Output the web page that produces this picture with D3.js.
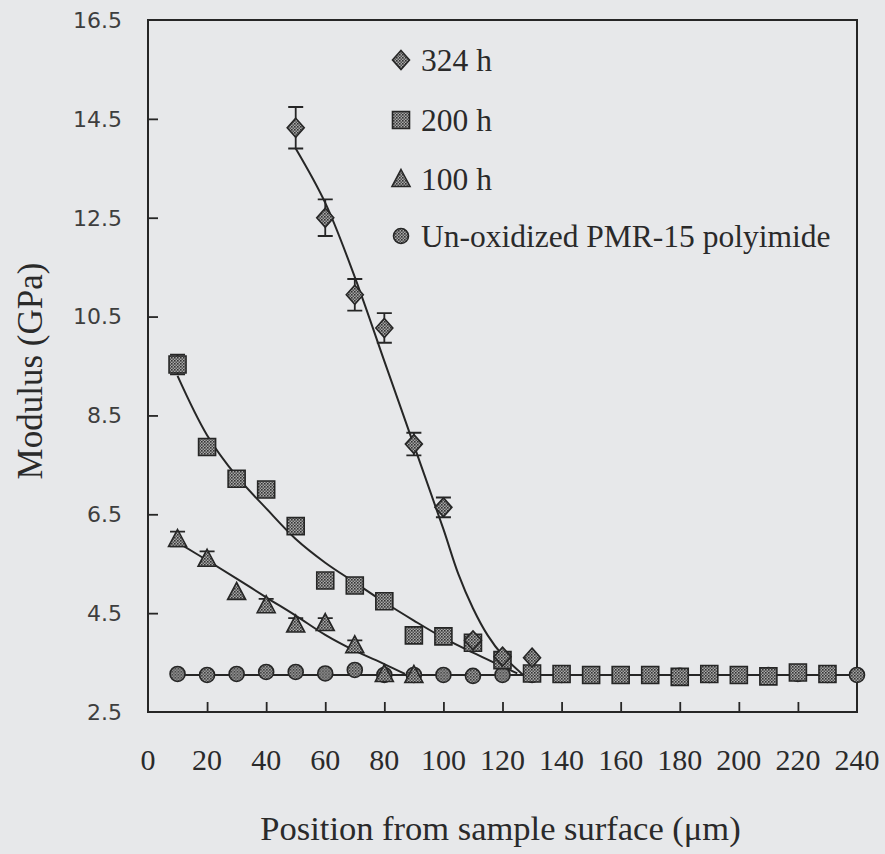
<!DOCTYPE html>
<html><head><meta charset="utf-8">
<script src="https://cdn.jsdelivr.net/npm/d3@7"></script>
<style>
html,body{margin:0;padding:0;background:#e7e8ea;}
svg{display:block;}
</style></head>
<body>
<svg id="chart" width="885" height="854"></svg>
<script>
// ---- data ----
const xTicks = [0,20,40,60,80,100,120,140,160,180,200,220,240];
const yTicks = [2.5,4.5,6.5,8.5,10.5,12.5,14.5,16.5];
const seriesNames = ["324 h","200 h","100 h","Un-oxidized PMR-15 polyimide"];

const pos324 = [50,60,70,80,90,100,110,120,130];
const mod324 = [14.32,12.5,10.94,10.27,7.92,6.64,3.95,3.62,3.6];
const err324 = [0.42,0.37,0.32,0.30,0.23,0.2,0,0,0];

const pos200 = [10,20,30,40,50,60,70,80,90,100,110,120,130,140,150,160,170,180,190,200,210,220,230];
const mod200 = [9.53,7.86,7.22,7.0,6.26,5.16,5.06,4.74,4.05,4.03,3.9,3.55,3.28,3.27,3.25,3.25,3.25,3.21,3.27,3.25,3.22,3.3,3.27];
const err200 = [0.2,0,0,0,0,0,0,0,0,0,0,0,0,0,0,0,0,0,0,0,0,0,0];

const pos100 = [10,20,30,40,50,60,70,80,90];
const mod100 = [6.0,5.6,4.93,4.66,4.27,4.3,3.85,3.27,3.25];
const err100 = [0.15,0.15,0,0.13,0.13,0.1,0.1,0,0];

const posUnox = [10,20,30,40,50,60,70,80,90,100,110,120,130,140,150,160,170,180,190,200,210,220,230,240];
const modUnox = [3.27,3.25,3.27,3.31,3.31,3.28,3.35,3.25,3.25,3.25,3.23,3.25,3.25,3.25,3.25,3.25,3.25,3.23,3.25,3.25,3.25,3.27,3.25,3.25];

// fitted trend lines
const fit324x = [50,60,70,80,90,100,105,110,115,120,127];
const fit324y = [13.9,12.8,11.3,9.6,7.9,6.2,5.3,4.6,4.05,3.65,3.25];
const fit200x = [10,20,30,40,50,60,70,80,90,100,110,120,125];
const fit200y = [9.3,8.1,7.27,6.62,6.0,5.52,5.12,4.72,4.35,4.0,3.7,3.42,3.28];
const fit100x = [10,20,30,40,50,60,70,80,87];
const fit100y = [5.93,5.57,5.2,4.82,4.45,4.06,3.74,3.47,3.27];
const baseX = [8,240];
const baseY = [3.25,3.25];

// ---- layout ----
const svg = d3.select("#chart");
const W = 885, H = 854;
const m = {left:148, right:28, top:20, bottom:142};
const x = d3.scaleLinear().domain([0,240]).range([m.left, W-m.right]);
const y = d3.scaleLinear().domain([2.5,16.5]).range([H-m.bottom, m.top]);
const ink = "#262626";

// pattern for markers
const defs = svg.append("defs");
const pat = defs.append("pattern").attr("id","dots").attr("patternUnits","userSpaceOnUse")
  .attr("width",3).attr("height",3);
pat.append("rect").attr("width",3).attr("height",3).attr("fill","#a9a9a9");
pat.append("rect").attr("width",1.6).attr("height",1.6).attr("fill","#333");
pat.append("rect").attr("x",1.5).attr("y",1.5).attr("width",1.5).attr("height",1.5).attr("fill","#505050");

// axes
const xAxis = d3.axisBottom(x).tickValues(xTicks.slice(1,-1)).tickSize(-10).tickFormat("");
const yAxis = d3.axisLeft(y).tickValues(yTicks.slice(1,-1)).tickSize(-10).tickFormat("");
const gx = svg.append("g").attr("transform",`translate(0,${y(2.5)})`).call(xAxis);
const gy = svg.append("g").attr("transform",`translate(${x(0)},0)`).call(yAxis);
[gx,gy].forEach(g=>{
  g.select(".domain").remove();
  g.selectAll(".tick line").attr("stroke",ink).attr("stroke-width",1.8);
});
// frame
svg.append("rect").attr("x",x(0)).attr("y",y(16.5)).attr("width",x(240)-x(0)).attr("height",y(2.5)-y(16.5))
  .attr("fill","none").attr("stroke",ink).attr("stroke-width",2);

// tick labels
svg.append("g").selectAll("text").data(xTicks).join("text")
  .attr("x",d=>x(d)).attr("y",770).attr("text-anchor","middle")
  .attr("font-family","'Liberation Serif', serif").attr("font-size",30).attr("fill","#2a2a2a")
  .text(d=>d);
svg.append("g").selectAll("text").data(yTicks).join("text")
  .attr("x",122).attr("y",d=>y(d)).attr("dy","0.36em").attr("text-anchor","end")
  .attr("font-family","'DejaVu Sans', sans-serif").attr("font-size",22).attr("fill","#3e3e3e")
  .text(d=>d.toFixed(1));

// axis titles
svg.append("text").attr("x",(x(0)+x(240))/2 - 2).attr("y",840).attr("text-anchor","middle")
  .attr("font-family","'Liberation Serif', serif").attr("font-size",34.5).attr("fill","#2a2a2a")
  .text("Position from sample surface (\u03bcm)");
svg.append("text").attr("transform",`translate(42,${(y(2.5)+y(16.5))/2 + 5}) rotate(-90)`)
  .attr("text-anchor","middle")
  .attr("font-family","'Liberation Serif', serif").attr("font-size",35).attr("fill","#2a2a2a")
  .text("Modulus (GPa)");

// lines
const line = d3.line().x(d=>x(d[0])).y(d=>y(d[1])).curve(d3.curveCatmullRom.alpha(0.5));
const fits = [
  d3.zip(baseX,baseY),
  d3.zip(fit100x,fit100y),
  d3.zip(fit200x,fit200y),
  d3.zip(fit324x,fit324y)
];
svg.append("g").selectAll("path").data(fits).join("path")
  .attr("d",line).attr("fill","none").attr("stroke",ink).attr("stroke-width",2);

// marker shapes
function shape(g, kind, cx, cy){
  const s = g.append("path").attr("fill","url(#dots)").attr("stroke",ink).attr("stroke-width",1.6);
  if(kind==="diamond") s.attr("d",`M${cx},${cy-9.5}L${cx+8.5},${cy}L${cx},${cy+9.5}L${cx-8.5},${cy}Z`);
  else if(kind==="square") s.attr("d",`M${cx-8.5},${cy-8.5}h17v17h-17Z`);
  else if(kind==="triangle") s.attr("d",`M${cx},${cy-9.5}L${cx+9},${cy+7.5}L${cx-9},${cy+7.5}Z`);
  else s.attr("d",d3.arc()({innerRadius:0,outerRadius:7.5,startAngle:0,endAngle:2*Math.PI})).attr("transform",`translate(${cx},${cy})`);
}
const series = [
  {kind:"circle", xs:posUnox, ys:modUnox, es:posUnox.map(()=>0)},
  {kind:"triangle", xs:pos100, ys:mod100, es:err100},
  {kind:"square", xs:pos200, ys:mod200, es:err200},
  {kind:"diamond", xs:pos324, ys:mod324, es:err324}
];
series.forEach(sr=>{
  const g = svg.append("g");
  sr.xs.forEach((px,i)=>{
    const e = sr.es[i];
    if(e>0){
      const cx = x(px), y1 = y(sr.ys[i]+e), y2 = y(sr.ys[i]-e);
      g.append("path").attr("d",`M${cx},${y1}V${y2}M${cx-7.5},${y1}H${cx+7.5}M${cx-7.5},${y2}H${cx+7.5}`)
        .attr("stroke",ink).attr("stroke-width",1.8).attr("fill","none");
    }
    shape(g, sr.kind, x(px), y(sr.ys[i]));
  });
});

// legend
const legKinds = ["diamond","square","triangle","circle"];
const legY = [60,120,179,236];
const lg = svg.append("g");
seriesNames.forEach((n,i)=>{
  shape(lg, legKinds[i], 401, legY[i]);
  lg.append("text").attr("x",421).attr("y",legY[i]).attr("dy","0.35em")
    .attr("font-family","'Liberation Serif', serif").attr("font-size",31.5).attr("fill","#2a2a2a").text(n);
});
</script>
</body></html>
